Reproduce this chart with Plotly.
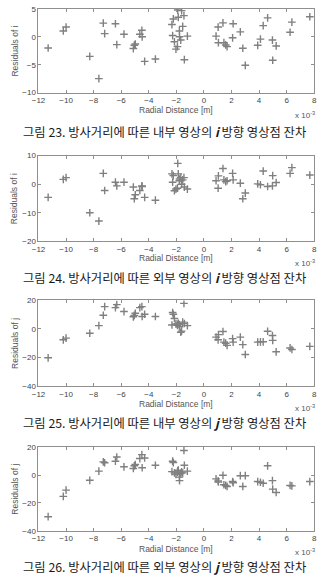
import plotly.graph_objects as go

# Radial distance (x 10^-3 m), shared by all four panels
radial = [-11.3, -10.2, -10.0, -8.28, -7.62, -7.3, -7.2, -6.42, -6.32, -5.8,
          -5.12, -5.05, -4.98, -4.65, -4.5, -4.48, -4.3, -3.52,
          -2.32, -2.22, -2.27, -2.14, -2.03, -1.92, -1.86, -1.78, -1.77, -1.68,
          -1.9, -1.62, -1.54, -1.45, -1.42, -1.2,
          0.88, 1.03, 1.05, 1.38, 1.45, 1.58, 1.68, 2.08, 2.12, 2.64, 2.82, 3.0,
          3.9, 4.1, 4.3, 4.62, 4.97, 4.99, 5.24, 6.25, 6.38, 7.68]

# Fig 23: internal image, i direction
res_i_int = [-2.0, 1.05, 1.75, -3.5, -7.5, 2.46, 0.58, 2.34, -1.4, 0.47,
             -2.1, -1.5, -1.3, 0.47, 1.17, 0.0, -4.4, -3.98,
             2.2, 3.2, 0.23, -0.88, -2.2, -1.75, 3.5, 1.05, 0.0, -0.58,
             4.8, 4.7, 1.87, 3.8, -4.1, 0.12,
             0.12, 1.75, -1.05, 2.5, -1.05, -1.46, -1.75, -0.18, 2.34, 0.88, -2.05, -5.1,
             -1.52, -0.41, 2.0, 3.4, -0.58, -4.2, -1.64, 0.82, 2.63, 3.6]

# Fig 24: external image, i direction
res_i_ext = [-4.6, 1.7, 2.3, -10.0, -12.9, 3.8, -2.2, 0.7, -0.6, 0.7,
             -1.0, -5.1, -3.7, -2.2, -0.6, -0.8, -4.6, -5.6,
             3.6, 3.0, 0.7, -2.3, -1.7, -1.4, 3.6, 1.2, 1.8, 2.3,
             7.3, 0.0, 1.5, 2.3, -1.0, -1.7,
             1.2, -1.4, 2.9, 5.5, 1.5, 0.9, 1.2, 3.8, 1.5, 0.35, -5.1, -3.1,
             0.1, -0.2, 4.6, -0.8, -0.6, 3.0, 0.6, 3.8, 5.8, 3.2]

# Fig 25: internal image, j direction
res_j_int = [-20.2, -7.6, -6.4, -3.0, 2.3, 9.6, 15.6, 14.9, 17.0, 12.2,
             8.5, 9.5, 11.0, 14.9, 15.6, 8.7, 10.3, 8.7,
             2.75, 10.3, 11.5, 7.3, 3.5, 2.5, 4.0, 3.0, 1.5, -2.3,
             3.2, -1.5, 4.8, 17.9, 3.8, 2.3,
             -5.7, -7.6, -4.0, -1.8, -9.2, -10.0, -11.5, -6.8, -9.2, -5.7, -11.0, -17.9,
             -9.2, -9.0, -9.0, -1.6, -4.6, -8.0, -16.0, -13.3, -14.4, -12.2]

# Fig 26: external image, j direction
res_j_ext = [-29.9, -15.3, -10.8, -3.8, 2.8, 9.4, 8.8, 9.9, 12.9, 5.9,
             4.7, 6.6, 7.5, 11.8, 14.6, 5.2, 12.2, 7.0,
             2.4, 8.9, 9.9, 1.5, 0.5, 2.0, 3.5, -1.5, -4.0, 1.0,
             3.0, 2.2, 1.5, 17.6, 7.0, 2.8,
             -2.8, -4.2, -5.0, -0.2, -7.0, -7.5, -8.2, -4.7, -5.5, -0.5, -8.2, -0.5,
             -4.7, -5.2, -5.9, 6.6, -4.0, -10.1, -12.5, -7.5, -7.8, -4.7]

x_ticks = [-12, -10, -8, -6, -4, -2, 0, 2, 4, 6, 8]
y_ranges = [[-10, 5], [-20, 10], [-40, 20], [-40, 20]]
y_dticks = [5, 10, 20, 20]
y_titles = ["Residuals of i", "Residuals of i", "Residuals of j", "Residuals of j"]
captions = [
    "그림 23. 방사거리에 따른 내부 영상의 <b><i>i</i></b> 방향 영상점 잔차",
    "그림 24. 방사거리에 따른 외부 영상의 <b><i>i</i></b> 방향 영상점 잔차",
    "그림 25. 방사거리에 따른 내부 영상의 <b><i>j</i></b> 방향 영상점 잔차",
    "그림 26. 방사거리에 따른 외부 영상의 <b><i>j</i></b> 방향 영상점 잔차",
]
series = [res_i_int, res_i_ext, res_j_int, res_j_ext]

W, H = 324, 588
# layout in pixels: (top, bottom, radial label y, x10 label y, caption y)
panels = [(5, 90, 108, 113, 130),
          (154, 241, 258, 263, 278),
          (301, 388, 406, 410, 426),
          (450, 535, 553, 557, 572)]
left_px, right_px = 32.5, 317

def py(p):
    return 1 - p / H

fig = go.Figure()
layout = dict(width=W, height=H, margin=dict(l=0, r=0, t=0, b=0),
              paper_bgcolor="white", plot_bgcolor="white", showlegend=False,
              font=dict(family="Liberation Sans, Arial", size=8, color="#444"))
annotations = []
axis_color = "#8f8f8f"

for k in range(4):
    sx = "" if k == 0 else str(k + 1)
    top, bot, rad_y, x10_y, cap_y = panels[k]
    fig.add_trace(go.Scatter(
        x=radial, y=series[k], mode="markers",
        xaxis="x" + sx, yaxis="y" + sx,
        marker=dict(symbol="cross-thin", size=5.5,
                    line=dict(width=1.4, color="#808080"), color="#808080"),
        hoverinfo="skip"))
    common = dict(showline=True, linecolor=axis_color, linewidth=1, mirror="ticks",
                  ticks="inside", ticklen=3, tickcolor=axis_color, showgrid=False,
                  zeroline=False, tickfont=dict(size=8, color="#444"))
    layout["xaxis" + sx] = dict(common, domain=[left_px / W, right_px / W],
                                range=[-12, 8], tickvals=x_ticks,
                                anchor="y" + sx)
    layout["yaxis" + sx] = dict(common, domain=[py(bot), py(top)],
                                range=y_ranges[k], dtick=y_dticks[k],
                                anchor="x" + sx)
    cx = (left_px + right_px) / 2 / W
    base = dict(xref="paper", yref="paper", showarrow=False,
                xanchor="center", yanchor="middle")
    annotations.append(dict(base, text="Radial Distance [m]", x=cx, y=py(rad_y),
                            font=dict(size=8.5, color="#555")))
    annotations.append(dict(base, text="x 10<sup>-3</sup>", x=308 / W, y=py(x10_y),
                            font=dict(size=8, color="#555")))
    annotations.append(dict(base, text=y_titles[k], x=8 / W, y=py((top + bot) / 2),
                            textangle=-90, font=dict(size=8.5, color="#555")))
    annotations.append(dict(base, text=captions[k], x=0.5, y=py(cap_y),
                            font=dict(family="Noto Sans CJK KR", size=12.3,
                                      color="#1a1a1a")))

layout["annotations"] = annotations
fig.update_layout(**layout)
fig.write_html("out.html")
